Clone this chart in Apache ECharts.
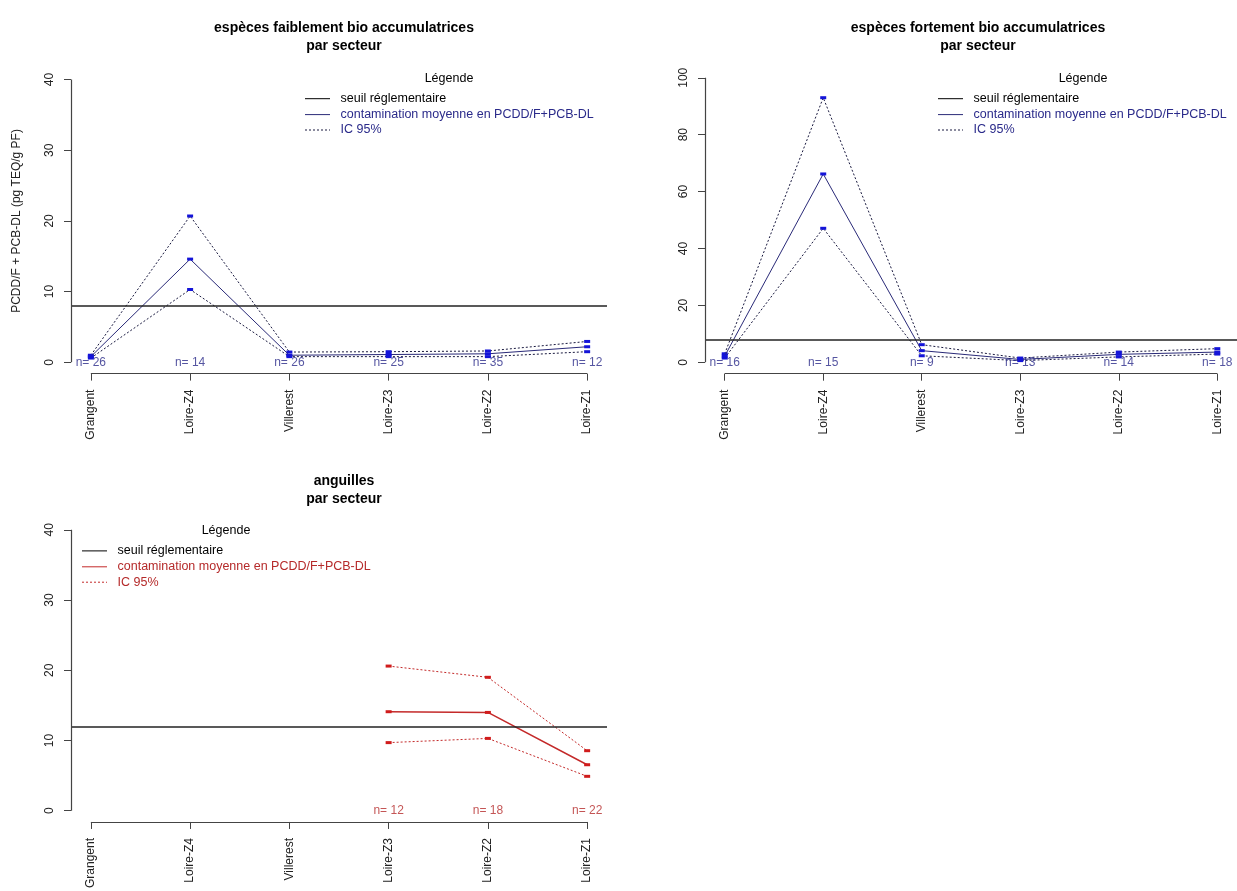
<!DOCTYPE html>
<html><head><meta charset="utf-8">
<script src="https://cdn.jsdelivr.net/npm/echarts@6/dist/echarts.min.js"></script>
<style>html,body{margin:0;padding:0;background:#fff}#c{width:1237px;height:891px}</style>
</head><body><div id="c"></div>
<script>
var categories = ['Grangent','Loire-Z4','Villerest','Loire-Z3','Loire-Z2','Loire-Z1'];
// panel 1 : espèces faiblement bio accumulatrices
var mean1 = [0.8, 14.6, 1.0, 1.1, 1.2, 2.2];
var low1  = [0.6, 10.3, 0.8, 0.8, 0.8, 1.5];
var up1   = [1.0, 20.7, 1.45, 1.5, 1.6, 2.95];
var n1    = [26, 14, 26, 25, 35, 12];
var seuil1 = 8;
var yTicks1 = [0, 10, 20, 30, 40];
// panel 2 : espèces fortement bio accumulatrices
var mean2 = [2.2, 66.2, 4.1, 1.0, 2.8, 3.6];
var low2  = [1.5, 47.1, 2.3, 0.6, 1.9, 2.9];
var up2   = [3.0, 93.0, 6.2, 1.5, 3.6, 4.8];
var n2    = [16, 15, 9, 13, 14, 18];
var seuil2 = 8;
var yTicks2 = [0, 20, 40, 60, 80, 100];
// panel 3 : anguilles
var mean3 = [null, null, null, 14.1, 14.0, 6.55];
var low3  = [null, null, null, 9.7, 10.3, 4.9];
var up3   = [null, null, null, 20.6, 19.0, 8.55];
var n3    = [null, null, null, 12, 18, 22];
var seuil3 = 12;
var yTicks3 = [0, 10, 20, 30, 40];

var titles = ['espèces faiblement bio accumulatrices\npar secteur',
              'espèces fortement bio accumulatrices\npar secteur',
              'anguilles\npar secteur'];
var legendTitle = 'Légende';
var legendLabels = ['seuil réglementaire','contamination moyenne en PCDD/F+PCB-DL','IC 95%'];
var yName = 'PCDD/F + PCB-DL (pg TEQ/g PF)';

var FONT = '"Liberation Sans", Arial, sans-serif';
var panels = [
  {mean:mean1, low:low1, up:up1, n:n1, seuil:seuil1, ticks:yTicks1, ymax:40,
   grid:{left:71, top:68.3, width:536, height:305.3},
   line:'#2a2a78', dot:'#1a1a40', mark:'#1414d8', text:'#2a2a8a', title:339, titleTop:14,
   leg:{x:305, y:78.5, tx:449}},
  {mean:mean2, low:low2, up:up2, n:n2, seuil:seuil2, ticks:yTicks2, ymax:100,
   grid:{left:705, top:66.4, width:536, height:307.3},
   line:'#2a2a78', dot:'#1a1a40', mark:'#1414d8', text:'#2a2a8a', title:973, titleTop:14,
   leg:{x:938, y:78.5, tx:1083}},
  {mean:mean3, low:low3, up:up3, n:n3, seuil:seuil3, ticks:yTicks3, ymax:40,
   grid:{left:71, top:518.6, width:536, height:307.8},
   line:'#c42a2a', dot:'#c42a2a', mark:'#d01c1c', text:'#b52a2a', title:339, titleTop:467,
   leg:{x:82, y:530.7, tx:226}}
];

function pairs(arr){ return arr.map(function(v,i){ return [i+1, v]; }); }

var option = {
  animation:false,
  backgroundColor:'#fff',
  textStyle:{fontFamily:FONT},
  title:[], grid:[], xAxis:[], yAxis:[], series:[], graphic:[]
};

panels.forEach(function(p, k){
  var ext = p.ymax*0.04;
  option.title.push({text:titles[k], left:p.title, top:p.titleTop, textAlign:'center',
    textStyle:{fontFamily:FONT, fontSize:14, fontWeight:'bold', color:'#000', lineHeight:18}});
  option.grid.push(p.grid);
  option.xAxis.push({type:'value', gridIndex:k, min:0.8, max:6.2, position:'bottom',
    axisLine:{show:false, onZero:false}, splitLine:{show:false},
    axisTick:{show:true, inside:false, customValues:[1,2,3,4,5,6], length:7, lineStyle:{color:'#444'}},
    axisLabel:{customValues:[1,2,3,4,5,6], rotate:90, margin:16, fontSize:12, color:'#222',
      fontFamily:FONT, formatter:function(v){ return categories[Math.round(v)-1] || ''; }}});
  var ya = {type:'value', gridIndex:k, min:-ext, max:p.ymax+ext, position:'left',
    axisLine:{show:false, onZero:false}, splitLine:{show:false},
    axisTick:{show:true, inside:false, customValues:p.ticks, length:7, lineStyle:{color:'#444'}},
    axisLabel:{customValues:p.ticks, rotate:90, margin:15, fontSize:12, color:'#222', fontFamily:FONT}};
  if (k===0){
    ya.name = yName; ya.nameLocation='middle'; ya.nameGap=48; ya.nameRotate=90;
    ya.nameTextStyle={fontSize:12, color:'#222', fontFamily:FONT};
  }
  option.yAxis.push(ya);

  // axis lines (R style) + threshold
  option.series.push({type:'line', xAxisIndex:k, yAxisIndex:k, data:[], silent:true,
    markLine:{silent:true, symbol:'none', label:{show:false}, animation:false,
      data:[
        {yAxis:p.seuil, lineStyle:{color:'#222', width:1.5, type:'solid'}},
        [{coord:[1,-ext], lineStyle:{color:'#444', width:1.2, type:'solid'}},{coord:[6,-ext]}],
        [{coord:[0.8,p.ticks[0]], lineStyle:{color:'#444', width:1.2, type:'solid'}},{coord:[0.8,p.ticks[p.ticks.length-1]]}]
      ]}});

  var mk = {symbol:'rect', symbolSize:[6,3], itemStyle:{color:p.mark}};
  option.series.push(Object.assign({type:'line', name:'up'+k, xAxisIndex:k, yAxisIndex:k, data:pairs(p.up),
    lineStyle:{color:p.dot, width:1, type:[2,2]}, z:3}, mk));
  option.series.push(Object.assign({type:'line', name:'low'+k, xAxisIndex:k, yAxisIndex:k, data:pairs(p.low),
    lineStyle:{color:p.dot, width:1, type:[2,2]}, z:3}, mk));
  option.series.push(Object.assign({type:'line', name:'mean'+k, xAxisIndex:k, yAxisIndex:k, data:pairs(p.mean),
    lineStyle:{color:p.line, width:k===2?1.5:1, type:'solid'}, z:4}, mk));
  // n= labels at y = 0
  option.series.push({type:'scatter', xAxisIndex:k, yAxisIndex:k, symbolSize:1,
    itemStyle:{color:'rgba(0,0,0,0)'}, silent:true, z:5,
    data:p.n.map(function(v,i){ return v===null?null:{value:[i+1,0], nn:v}; }).filter(function(d){return d;}),
    label:{show:true, position:'inside', fontSize:12, color:p.text, fontFamily:FONT,
      formatter:function(d){ return 'n= '+d.data.nn; }}});

  // legend (R-style, no box)
  var L = p.leg, rows=[L.y+20.2, L.y+36.1, L.y+51.5];
  var lcolors = ['#000', p.line, p.dot];
  var tcolors = ['#000', p.text, p.text];
  option.graphic.push({type:'text', x:L.tx, y:L.y, style:{text:legendTitle, fill:'#000',
    font:'12.5px '+FONT, align:'center', verticalAlign:'middle'}});
  legendLabels.forEach(function(lab, j){
    option.graphic.push({type:'line', shape:{x1:L.x, y1:rows[j], x2:L.x+25, y2:rows[j]},
      style:{stroke:lcolors[j], lineWidth:1, lineDash: j===2?[2,2]:null}});
    option.graphic.push({type:'text', x:L.x+35.5, y:rows[j], style:{text:lab, fill:tcolors[j],
      font:'12.5px '+FONT, verticalAlign:'middle', align:'left'}});
  });
});

var chart = echarts.init(document.getElementById('c'), null, {renderer:'canvas'});
chart.setOption(option);
</script></body></html>
